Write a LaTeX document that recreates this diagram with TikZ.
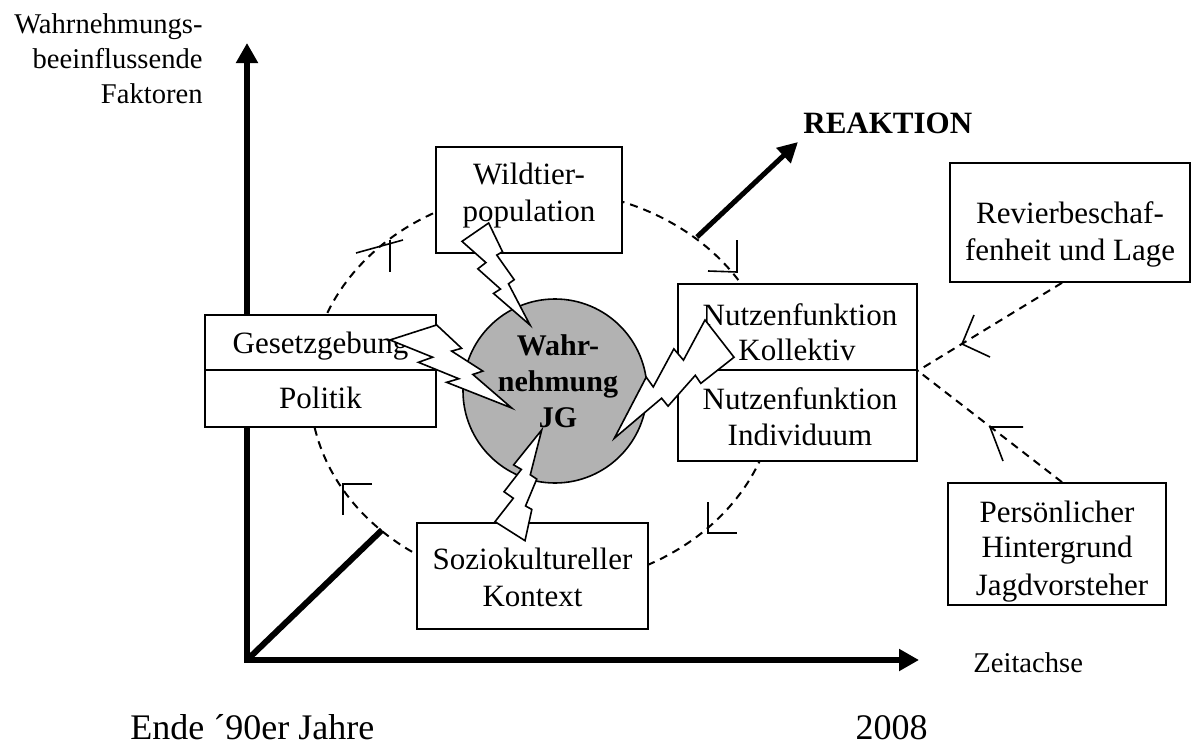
\documentclass[tikz,border=0pt]{standalone}
\usepackage{fontspec}
\setmainfont{Liberation Serif}
\usetikzlibrary{arrows.meta,calc}
\definecolor{jggray}{RGB}{178,178,178}
\newcommand\zbolt[3]{%
  \filldraw[bolt] ($(#1)+0.1801*(#3)$)
    -- ($(#1)+0.3922*(#2)$)
    -- ($(#1)+0.5954*(#2)+0.2815*(#3)$)
    -- ($(#1)+0.5116*(#2)+0.3147*(#3)$)
    -- ($(#1)+0.7675*(#2)+0.5559*(#3)$)
    -- ($(#1)+0.6837*(#2)+0.5962*(#3)$)
    -- ($(#1)+1*(#2)+1*(#3)$)
    -- ($(#1)+0.4635*(#2)+0.6905*(#3)$)
    -- ($(#1)+0.5658*(#2)+0.6476*(#3)$)
    -- ($(#1)+0.2325*(#2)+0.4493*(#3)$)
    -- ($(#1)+0.3519*(#2)+0.3881*(#3)$)
    -- cycle;}
\begin{document}
\begin{tikzpicture}[x=0.5pt,y=-0.5pt,
  box/.style={draw,line width=0.8pt,fill=white,inner sep=0pt,rectangle},
  txt/.style={inner sep=0pt,anchor=base,font=\fontsize{15.5pt}{18pt}\selectfont},
  stxt/.style={inner sep=0pt,anchor=base,font=\fontsize{14.3pt}{17pt}\selectfont},
  ltxt/.style={inner sep=0pt,anchor=base,text depth=0pt,font=\fontsize{18pt}{21pt}\selectfont},
  btxt/.style={inner sep=0pt,anchor=base,font=\fontsize{15pt}{18pt}\selectfont\bfseries},
  dashline/.style={line width=1pt,dash pattern=on 4pt off 3pt},
  tick/.style={line width=0.8pt},
  bolt/.style={draw,fill=white,line width=0.8pt,line join=miter},
  axisline/.style={line width=3.2pt,line join=miter},
]
\useasboundingbox (0,0) rectangle (1199,744);

% axes
\coordinate (o) at (247,660);
\coordinate (ytop) at (247,43);
\coordinate (xend) at (919,660);
\coordinate (dg) at (382,530);
\draw[axisline,{Triangle[length=10pt,width=10.5pt]}-{Triangle[length=10pt,width=10.5pt]}] (ytop) -- (o) -- (xend);
\draw[line width=3pt] (o) -- (dg);

% dashed cycle
\draw[dashline] (543,388) ellipse [x radius=233, y radius=198];

% reaction arrow
\coordinate (rs) at (697,237);
\coordinate (re) at (798,142);
\draw[line width=2.5pt,-{Triangle[length=10pt,width=10pt]}] (rs) -- (re);

% boxes
\node[box,minimum width=93pt,minimum height=53pt] (wild) at (529,200) {};
\node[box,minimum width=115.5pt,minimum height=27.5pt] (ges) at (320.5,342.5) {};
\node[box,minimum width=115.5pt,minimum height=28.5pt] (pol) at (320.5,398.5) {};
\node[box,minimum width=119.5pt,minimum height=43pt] (nk) at (797.5,327) {};
\node[box,minimum width=119.5pt,minimum height=45.5pt] (ni) at (797.5,415.5) {};
\node[box,minimum width=115.5pt,minimum height=53pt] (soz) at (532.5,576) {};
\node[box,minimum width=120pt,minimum height=59.5pt] (rev) at (1070,222.5) {};
\node[box,minimum width=109pt,minimum height=61pt] (per) at (1057,544) {};
\node[circle,draw,line width=0.8pt,fill=jggray,minimum size=92pt,inner sep=0pt] (jg) at (555,391) {};

% right connectors
\coordinate (junc) at (nk.south east);
\draw[dashline] ($(rev.south west)!0.467!(rev.south east)$) -- (junc);
\draw[dashline] ($(per.north west)!0.523!(per.north east)$) -- (junc);

% arrow marks
\draw[tick] (356,253) -- (403,240);
\draw[tick] (390,240) -- (390,272);
\draw[tick] (708,271) -- (737,272) -- (737,240);
\draw[tick] (708,502) -- (708,533) -- (737,533);
\draw[tick] (372,484) -- (343,484) -- (343,515);
\draw[tick] (974,315) -- (962,344) -- (990,357);
\draw[tick] (1023,427) -- (990,427) -- (1003,461);

% texts
\node[stxt,anchor=base east] (t1) at (203,33) {Wahrnehmungs-};
\node[stxt,anchor=base east] (t2) at (203,68) {beeinflussende};
\node[stxt,anchor=base east] (t3) at (203,103) {Faktoren};
\node[txt] (w1) at (529,184) {Wildtier-};
\node[txt] (w2) at (529,221) {population};
\node[txt] (g1) at (320.5,353) {Gesetzgebung};
\node[txt] (p1) at (320.5,408) {Politik};
\node[txt] (n1) at (800,325) {Nutzenfunktion};
\node[txt] (n2) at (797,360) {Kollektiv};
\node[txt] (n3) at (800,409) {Nutzenfunktion};
\node[txt] (n4) at (800,445) {Individuum};
\node[txt] (s1) at (532.5,569) {Soziokultureller};
\node[txt] (s2) at (532.5,606) {Kontext};
\node[txt] (r1) at (1070,223) {Revierbeschaf-};
\node[txt] (r2) at (1070,260) {fenheit und Lage};
\node[txt] (h1) at (1057,522) {Persönlicher};
\node[txt] (h2) at (1057,557) {Hintergrund};
\node[txt] (h3) at (1062,595) {Jagdvorsteher};
\node[inner sep=0pt,anchor=base west,font=\fontsize{15.5pt}{18pt}\selectfont\bfseries] (rk) at (803,133) {REAKTION};
\node[stxt,anchor=base west] (za) at (973,672) {Zeitachse};
\node[ltxt,anchor=base west] (ende) at (130,739) {Ende ´90er Jahre};
\node[ltxt,anchor=base east] (y08) at (928,739) {2008};

% lightning bolts
\zbolt{462,223}{68,0}{0,102}
\zbolt{389.6,325}{120,-0.1}{2.06,83.07}
\zbolt{728.2,316.7}{14.84,103.4}{-128.7,18.14}
\zbolt{499.2,541.4}{65.8,-1.87}{-23.29,-109.56}

% circle text
\node[btxt] (c1) at (558,355) {Wahr-};
\node[btxt] (c2) at (558,391) {nehmung};
\node[btxt] (c3) at (558,427) {JG};
\end{tikzpicture}
\end{document}
